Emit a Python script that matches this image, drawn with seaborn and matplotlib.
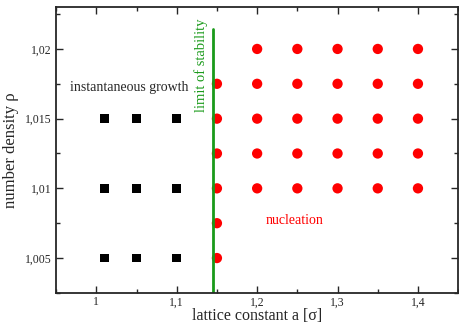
import numpy as np
import pandas as pd
import matplotlib
matplotlib.use("Agg")
import matplotlib.pyplot as plt
from matplotlib.ticker import MultipleLocator, FuncFormatter
import seaborn as sns

# instantaneous growth points (black squares)
growth_a = [1.01, 1.05, 1.1, 1.01, 1.05, 1.1, 1.01, 1.05, 1.1]
growth_rho = [1.005, 1.005, 1.005, 1.01, 1.01, 1.01, 1.015, 1.015, 1.015]

# nucleation points (red circles)
nuc_a = [1.15] * 6 + [1.2] * 5 + [1.25] * 5 + [1.3] * 5 + [1.35] * 5 + [1.4] * 5
nuc_rho = ([1.005, 1.0075, 1.01, 1.0125, 1.015, 1.0175]
           + [1.01, 1.0125, 1.015, 1.0175, 1.02] * 5)

# limit of stability
limit_a = 1.145
limit_top = 1.0214

growth = pd.DataFrame({"a": growth_a, "rho": growth_rho})
nuc = pd.DataFrame({"a": nuc_a, "rho": nuc_rho})

sns.set_style("ticks")
plt.rcParams["font.family"] = ["Liberation Serif", "DejaVu Serif"]

fig = plt.figure(figsize=(4.6, 3.24), dpi=100)
ax = fig.add_axes([0.122, 0.096, 0.874, 0.882])

sns.scatterplot(data=growth, x="a", y="rho", marker="s", s=38, color="black",
                edgecolor="none", ax=ax)
sns.scatterplot(data=nuc, x="a", y="rho", marker="o", s=55, color="#ff0000",
                edgecolor="none", ax=ax)
ax.plot([limit_a, limit_a], [1.0, limit_top], color="#1a9a1a", lw=2)

ax.set_xlim(0.95, 1.45)
ax.set_ylim(1.0025, 1.023)

ax.xaxis.set_major_locator(MultipleLocator(0.1))
ax.xaxis.set_minor_locator(MultipleLocator(0.05))
ax.yaxis.set_major_locator(MultipleLocator(0.005))
ax.yaxis.set_minor_locator(MultipleLocator(0.0025))

def comma(v, pos):
    s = ("%.3f" % v).rstrip("0").rstrip(".")
    return s.replace(".", ",")

ax.xaxis.set_major_formatter(FuncFormatter(comma))
ax.yaxis.set_major_formatter(FuncFormatter(comma))

ax.tick_params(which="both", direction="in", top=True, right=True, labelsize=8.5)
ax.tick_params(axis="x", pad=2.5)
ax.tick_params(which="major", length=5, width=1)
ax.tick_params(which="minor", length=3, width=1)
for sp in ax.spines.values():
    sp.set_linewidth(1.3)

ax.set_xlabel("lattice constant a [σ]", fontsize=11.5, labelpad=0)
ax.set_ylabel("number density ρ", fontsize=12, labelpad=4)

ax.text(1.041, 1.0172, "instantaneous growth", fontsize=10, ha="center", va="center")
ax.text(1.247, 1.0077, "nucleation", fontsize=10, color="#ff0000", ha="center", va="center")
ax.text(1.1305, 1.0188, "limit of stability", fontsize=10.5, color="#1a9a1a",
        rotation=90, ha="center", va="center")

fig.savefig("out.png", dpi=100)
